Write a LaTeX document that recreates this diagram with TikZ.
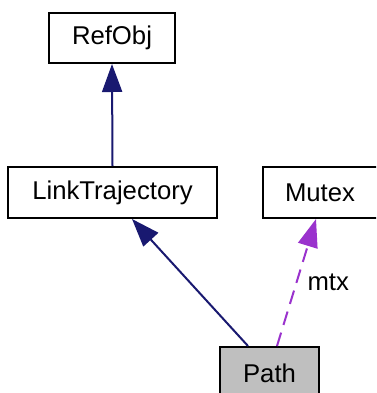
\documentclass[tikz,border=0pt]{standalone}
\usepackage{fontspec}
\setmainfont{Liberation Sans}
\usetikzlibrary{arrows.meta}
\definecolor{edgeblue}{HTML}{191970}
\definecolor{edgepurple}{HTML}{9A32CD}
\definecolor{boxgray}{HTML}{BFBFBF}
\begin{document}
\begin{tikzpicture}[x=1pt,y=-1pt,
  classbox/.style={draw=black,line width=2pt,fill=white,inner sep=0pt,
    font=\fontsize{25.7}{30}\selectfont},
  inherit/.style={draw=edgeblue,line width=2pt,
    -{Triangle[length=28pt,width=20pt,fill=edgeblue]}},
  usage/.style={draw=edgepurple,line width=2pt,dash pattern=on 14pt off 8pt,
    -{Triangle[length=28pt,width=20pt,fill=edgepurple]}},
  lbl/.style={font=\fontsize{25.7}{30}\selectfont,inner sep=0pt}]
\useasboundingbox[clip] (0,0) rectangle (376,393);
\fill[white] (0,0) rectangle (376,393);
\node[classbox,minimum width=126pt,minimum height=50pt] (refobj) at (112,38) {RefObj};
\node[classbox,minimum width=209pt,minimum height=51pt] (linktraj) at (112.5,192.5) {LinkTrajectory};
\node[classbox,minimum width=120pt,minimum height=51pt] (mutex) at (323,192.5) {\hspace*{-6pt}Mutex};
\node[classbox,fill=boxgray,minimum width=99pt,minimum height=52pt] (path) at (269.5,373) {Path};
\draw[inherit] (linktraj.north) -- (refobj.south);
\draw[inherit] ([xshift=-21.5pt]path.north) -- ([xshift=19.5pt]linktraj.south);
\draw[usage] ([xshift=7.5pt]path.north) -- ([xshift=-7pt]mutex.south)
  node[lbl,pos=0.5,anchor=west,xshift=10pt] (mtx) {mtx};
\end{tikzpicture}
\end{document}
